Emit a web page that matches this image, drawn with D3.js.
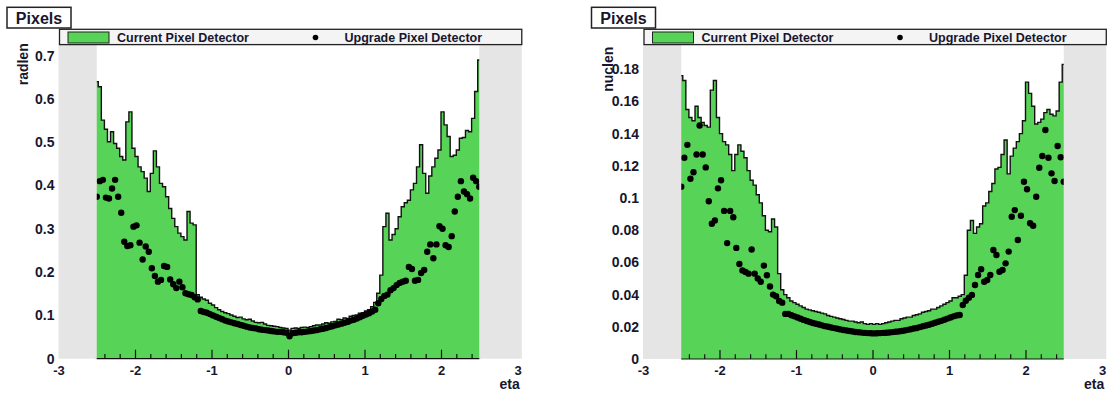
<!DOCTYPE html>
<html>
<head>
<meta charset="utf-8">
<script src="https://cdn.jsdelivr.net/npm/d3@7"></script>
<style>
  body { margin: 0; background: #fff; }
  svg text { font-family: "Liberation Sans", Arial, sans-serif; font-weight: bold; fill: #16162e; }
</style>
</head>
<body>
<svg id="chart" width="1108" height="394"></svg>
<script>
// histogram binning: 126 bins of 0.04 in eta, centres -2.50 ... 2.50
const binLow = -2.52;
const binWidth = 0.04;

const etaTicks = [-3, -2, -1, 0, 1, 2, 3];
const etaMinor = [-2.4, -2.2, -1.8, -1.6, -1.4, -1.2, -0.8, -0.6, -0.4, -0.2,
  0.2, 0.4, 0.6, 0.8, 1.2, 1.4, 1.6, 1.8, 2.2, 2.4];

const radlenTicks = [0, 0.1, 0.2, 0.3, 0.4, 0.5, 0.6, 0.7];
const nuclenTicks = [0, 0.02, 0.04, 0.06, 0.08, 0.1, 0.12, 0.14, 0.16, 0.18];

const legendLabels = ['Current Pixel Detector', 'Upgrade Pixel Detector'];

// radiation length, current detector (histogram)
const radlenCurrent = [
  .640, .628, .551, .530, .501, .524, .497, .486, .467, .459,
  .547, .570, .486, .467, .443, .432, .417, .386, .428, .480,
  .443, .405, .397, .374, .347, .324, .305, .290, .282, .274,
  .340, .313, .309, .148, .142, .138, .135, .128, .124, .118,
  .113, .109, .106, .104, .101, .098, .095, .096, .092, .090,
  .091, .087, .084, .083, .084, .080, .077, .076, .075, .074,
  .072, .071, .070, .066, .070, .071, .070, .072, .073, .072,
  .074, .076, .078, .078, .080, .083, .082, .085, .086, .091,
  .090, .094, .093, .098, .100, .101, .105, .106, .110, .113,
  .120, .130, .151, .193, .305, .336, .274, .287, .300, .328,
  .351, .360, .366, .390, .405, .443, .494, .428, .382, .422,
  .443, .463, .482, .570, .540, .513, .467, .470, .482, .509,
  .511, .527, .524, .555, .617, .690
];

// radiation length, upgrade detector (points)
const radlenUpgrade = [
  .374, .410, .413, .372, .370, .393, .413, .374, .337, .270,
  .260, .262, .305, .308, .268, .229, .259, .247, .209, .191,
  .178, .182, .214, .212, .183, .172, .163, .178, .165, .151,
  .149, .147, .142, .137, .110, .108, .106, .103, .100, .097,
  .094, .091, .088, .086, .084, .082, .080, .078, .076, .074,
  .072, .071, .070, .068, .067, .066, .065, .064, .063, .062,
  .062, .061, .060, .052, .059, .060, .061, .061, .062, .063,
  .064, .065, .066, .068, .069, .071, .073, .075, .077, .079,
  .081, .083, .085, .088, .090, .093, .096, .099, .102, .105,
  .109, .113, .128, .138, .145, .148, .158, .163, .170, .175,
  .178, .180, .212, .207, .180, .182, .198, .205, .247, .264,
  .232, .264, .306, .300, .262, .258, .283, .340, .374, .410,
  .386, .380, .370, .418, .410, .397
];

// nuclear interaction length, current detector (histogram)
const nuclenCurrent = [
  .176, .173, .155, .150, .148, .157, .150, .147, .145, .144,
  .167, .173, .150, .140, .135, .133, .127, .117, .127, .133,
  .129, .125, .117, .111, .108, .102, .097, .089, .080, .079,
  .087, .082, .053, .043, .040, .038, .036, .035, .034, .033,
  .032, .031, .0305, .030, .0295, .029, .0285, .028, .027, .0265,
  .026, .0255, .025, .0245, .024, .0235, .0235, .023, .0225, .023,
  .022, .0215, .022, .0215, .022, .0215, .022, .0225, .023, .0235,
  .024, .024, .025, .0255, .026, .026, .027, .0275, .028, .029,
  .0295, .030, .031, .031, .032, .033, .034, .035, .036, .038,
  .038, .039, .040, .052, .080, .086, .078, .082, .084, .095,
  .097, .104, .109, .118, .119, .127, .136, .115, .126, .131,
  .135, .140, .148, .172, .165, .157, .146, .147, .149, .153,
  .155, .152, .151, .154, .172, .183
];

// nuclear interaction length, upgrade detector (points)
const nuclenUpgrade = [
  .107, .125, .133, .112, .116, .127, .145, .127, .119, .098,
  .084, .086, .106, .111, .092, .072, .092, .088, .069, .059,
  .055, .054, .053, .068, .053, .050, .048, .058, .052, .045,
  .040, .039, .036, .035, .028, .028, .0272, .0265, .0258, .025,
  .0243, .0236, .023, .0224, .0219, .0214, .0209, .0204, .020, .0196,
  .0192, .0188, .0184, .018, .0177, .0174, .0171, .0168, .0166, .0164,
  .0162, .0161, .016, .0159, .016, .0161, .0162, .0163, .0165, .0167,
  .0169, .0171, .0174, .0177, .0181, .0185, .0189, .0193, .0198, .0203,
  .0208, .0213, .0219, .0225, .0231, .0237, .0244, .0251, .0258, .0265,
  .027, .0273, .0335, .0362, .038, .0398, .046, .0522, .0557, .048,
  .0491, .0522, .0677, .0646, .0542, .0553, .0594, .0667, .0884, .0925,
  .0739, .089, .1101, .1054, .0843, .0828, .1008, .1188, .1261, .1422,
  .125, .1153, .1106, .1323, .1253, .1101
];

const green = '#57d457';
const grey = '#e5e5e5';

const svg = d3.select('#chart');

const panels = [
  { current: radlenCurrent, upgrade: radlenUpgrade, ticks: radlenTicks, yLabel: 'radlen',
    left: 58.5, right: 517.5, base: 358.7, tickTop: 0.7, tickTopY: 55.6, labelX: 28.3, labelY: 43.3 },
  { current: nuclenCurrent, upgrade: nuclenUpgrade, ticks: nuclenTicks, yLabel: 'nuclen',
    left: 643, right: 1102, base: 359, tickTop: 0.18, tickTopY: 69.2, labelX: 612.7, labelY: 46.7 }
];

const frameTop = 43;

panels.forEach(p => {
  const x = d3.scaleLinear().domain([-3, 3]).range([p.left, p.right]);
  const y = d3.scaleLinear().domain([0, p.tickTop]).range([p.base, p.tickTopY]);
  const frameRight = x(3.056);

  const g = svg.append('g');

  // step histogram
  const steps = p.current.map((v, i) => [binLow + i * binWidth, v]);
  steps.push([binLow + p.current.length * binWidth, p.current[p.current.length - 1]]);

  g.append('path')
    .datum(steps)
    .attr('fill', green)
    .attr('d', d3.area().curve(d3.curveStepAfter).x(d => x(d[0])).y0(y(0)).y1(d => y(d[1])));

  g.append('path')
    .datum(steps)
    .attr('fill', 'none')
    .attr('stroke', '#111')
    .attr('stroke-width', 1.4)
    .attr('d', d3.line().curve(d3.curveStepAfter).x(d => x(d[0])).y(d => y(d[1])));

  // upgrade points
  g.selectAll('circle')
    .data(p.upgrade)
    .enter()
    .append('circle')
    .attr('cx', (d, i) => x(binLow + (i + 0.5) * binWidth))
    .attr('cy', d => y(d))
    .attr('r', 3.2)
    .attr('fill', '#000');

  // masked region outside |eta| < 2.5
  g.append('rect')
    .attr('x', x(-3)).attr('y', frameTop)
    .attr('width', x(-2.5) - x(-3)).attr('height', y(0) - frameTop)
    .attr('fill', grey);
  g.append('rect')
    .attr('x', x(2.5)).attr('y', frameTop)
    .attr('width', frameRight - x(2.5)).attr('height', y(0) - frameTop)
    .attr('fill', grey);

  // x axis
  g.append('line')
    .attr('x1', x(-2.5)).attr('x2', x(2.5))
    .attr('y1', y(0)).attr('y2', y(0))
    .attr('stroke', '#111').attr('stroke-width', 1.2);

  const minorAxis = g.append('g')
    .attr('transform', `translate(0,${y(0)})`)
    .call(d3.axisBottom(x).tickValues(etaMinor).tickSize(-4.7).tickFormat(''));
  minorAxis.select('.domain').remove();

  const majorAxis = g.append('g')
    .attr('transform', `translate(0,${y(0)})`)
    .call(d3.axisBottom(x).tickValues(etaTicks).tickSize(-9).tickPadding(7).tickFormat(d => String(d)));
  majorAxis.select('.domain').remove();
  majorAxis.selectAll('line').attr('stroke', '#111').attr('stroke-width', 1.2)
    .filter(d => Math.abs(d) > 2.5).remove();
  minorAxis.selectAll('line').attr('stroke', '#111').attr('stroke-width', 1.2);
  majorAxis.selectAll('text')
    .attr('font-size', 13).attr('font-family', null).attr('fill', null);

  // y axis labels
  const yAxis = g.append('g')
    .attr('transform', `translate(${x(-3)},0)`)
    .call(d3.axisLeft(y).tickValues(p.ticks).tickSize(0).tickPadding(4).tickFormat(d => String(d)));
  yAxis.select('.domain').remove();
  yAxis.selectAll('text').attr('font-size', 14).attr('font-family', null).attr('fill', null);

  // axis titles
  g.append('text')
    .attr('transform', `translate(${p.labelX},${p.labelY}) rotate(-90)`)
    .attr('text-anchor', 'end')
    .attr('font-size', 14)
    .text(p.yLabel);
  g.append('text')
    .attr('x', frameRight - 2)
    .attr('y', 389)
    .attr('text-anchor', 'end')
    .attr('font-size', 14)
    .text('eta');

  // legend
  const lg = g.append('g');
  lg.append('rect')
    .attr('x', x(-3) + 1).attr('y', 29.3)
    .attr('width', frameRight - x(-3) - 1).attr('height', 15.3)
    .attr('fill', '#f4f4f4').attr('stroke', '#222').attr('stroke-width', 1.3);
  lg.append('rect')
    .attr('x', x(-3) + 9.5).attr('y', 32).attr('width', 41).attr('height', 11)
    .attr('fill', green).attr('stroke', '#222').attr('stroke-width', 1);
  lg.append('text')
    .attr('x', x(-3) + 58.5).attr('y', 41.5)
    .attr('font-size', 12.5)
    .text(legendLabels[0]);
  lg.append('circle')
    .attr('cx', x(-3) + 257).attr('cy', 37.5).attr('r', 2.8).attr('fill', '#000');
  lg.append('text')
    .attr('x', x(-3) + 286).attr('y', 41.5)
    .attr('font-size', 12.5)
    .text(legendLabels[1]);

  // title box
  g.append('rect')
    .attr('x', x(-3) - 51.5).attr('y', 7.3).attr('width', 64).attr('height', 20.7)
    .attr('fill', '#fff').attr('stroke', '#222').attr('stroke-width', 1.5);
  g.append('text')
    .attr('x', x(-3) - 19.5).attr('y', 24)
    .attr('text-anchor', 'middle')
    .attr('font-size', 16)
    .text('Pixels');
});
</script>
</body>
</html>
